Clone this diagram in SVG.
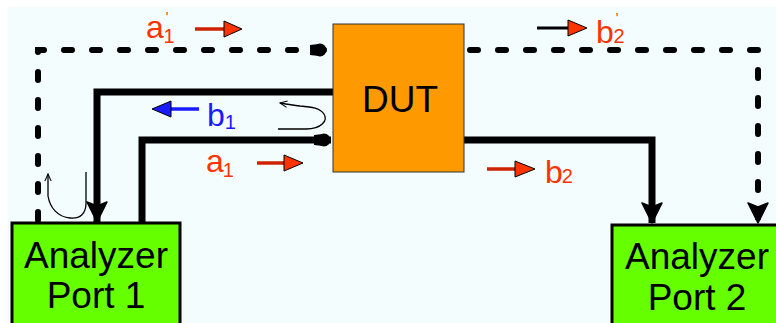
<svg xmlns="http://www.w3.org/2000/svg" width="776" height="323" viewBox="0 0 776 323">
<defs>
<style>
.thick{fill:none;stroke:#000;stroke-width:7;stroke-linejoin:miter}
.dash{fill:none;stroke:#000;stroke-width:6;stroke-dasharray:8 20;stroke-linecap:round}
.thin{fill:none;stroke:#000;stroke-width:1.3}
.lbl{font-family:"Liberation Sans",Arial,sans-serif;font-size:32px}
.sub{font-size:20px}
.pr{font-size:14px}
.red{fill:#ff3300}
.blue{fill:#1a1aff}
.node{font-family:"Liberation Sans",Arial,sans-serif;font-size:37px;fill:#000;text-anchor:middle}
.head{stroke:#000;stroke-width:1}
</style>
<marker id="ah" viewBox="0 0 22 22" refX="21" refY="11" markerWidth="22" markerHeight="22" orient="auto" markerUnits="userSpaceOnUse">
<path d="M1,1 L21,11 L1,21 L5,11 z" fill="#000" stroke="#000" stroke-width="1.5" stroke-linejoin="round"/>
</marker>
<marker id="dot" viewBox="0 0 18 18" refX="17" refY="9" markerWidth="18" markerHeight="18" orient="auto" markerUnits="userSpaceOnUse">
<path d="M0,4 L9,3 L9,15 L0,14 z" fill="#000"/><circle cx="10" cy="9" r="6.5" fill="#000"/>
</marker>
<marker id="tiny" viewBox="0 0 10 10" refX="9" refY="5" markerWidth="8" markerHeight="8" orient="auto" markerUnits="userSpaceOnUse">
<path d="M0,1 L9,5 L0,9" fill="none" stroke="#000" stroke-width="1.3"/>
</marker>
</defs>
<rect x="0" y="0" width="776" height="323" fill="#ffffff"/>
<rect x="7" y="7" width="769" height="316" fill="#f4fdfd"/>

<g id="connectors">
<path class="dash" d="M38,220 L38,50 L327,50" marker-end="url(#dot)"/>
<path class="dash" d="M470,50 L758,50 L758,223" marker-end="url(#ah)"/>
<path class="thick" d="M333,92 L97,92 L97,222" marker-end="url(#ah)"/>
<path class="thick" d="M142,223 L142,140 L331,140" marker-end="url(#dot)"/>
<path class="thick" d="M464,140 L652,140 L652,223" marker-end="url(#ah)"/>
<path class="thin" d="M278,129 L306,129 C322,129 328,120 324,114 C320,108 312,107 300,106 C292,105 286,104 280,103" marker-end="url(#tiny)"/>
<path class="thin" d="M86,172 L86,203 C86,214 80,219 70,218 C58,217 50,208 48,196 L48,174" marker-end="url(#tiny)"/>
<path class="thin" d="M750,227 L765,238"/>
</g>

<g id="arrows">
<g id="arr-a1p"><line x1="195" y1="29" x2="225" y2="29" stroke="#cc2200" stroke-width="3.5"/><path class="head" d="M224,21 L242,29 L224,37 z" fill="#ff3300"/></g>
<g id="arr-b1"><line x1="199" y1="109" x2="170" y2="109" stroke="#1a1aff" stroke-width="3.5"/><path class="head" d="M171,101 L152,109 L171,117 z" fill="#1a1aff"/></g>
<g id="arr-a1"><line x1="257" y1="163" x2="285" y2="163" stroke="#cc2200" stroke-width="3.5"/><path class="head" d="M284,155 L303,163 L284,171 z" fill="#ff3300"/></g>
<g id="arr-b2p"><line x1="537" y1="28" x2="569" y2="28" stroke="#000" stroke-width="3"/><path class="head" d="M568,20 L587,28 L568,36 z" fill="#ff3300"/></g>
<g id="arr-b2"><line x1="487" y1="169" x2="516" y2="169" stroke="#cc2200" stroke-width="3.5"/><path class="head" d="M515,161 L535,169 L515,177 z" fill="#ff3300"/></g>
</g>

<g id="labels">
<text class="lbl red" x="146" y="38">a<tspan class="pr" dx="2" dy="-16">'</tspan><tspan class="sub" dx="-5" dy="21">1</tspan></text>
<text class="lbl blue" x="207" y="126">b<tspan class="sub" dx="0" dy="3">1</tspan></text>
<text class="lbl red" x="206" y="172">a<tspan class="sub" dx="-1" dy="5">1</tspan></text>
<text class="lbl red" x="596" y="43">b<tspan class="pr" dx="2" dy="-20">'</tspan><tspan class="sub" dx="-5" dy="20">2</tspan></text>
<text class="lbl red" x="545" y="183">b<tspan class="sub" dx="-1">2</tspan></text>
</g>

<g id="dut">
<rect x="333" y="24" width="131" height="148" fill="#ff9900" stroke="#333" stroke-width="1"/>
<text class="node" x="400" y="112">DUT</text>
</g>

<g id="port1">
<rect x="12" y="223" width="168" height="110" fill="#66ff00" stroke="#000" stroke-width="3"/>
<text class="node" x="96" y="268">Analyzer</text>
<text class="node" x="96" y="308">Port 1</text>
</g>

<g id="port2">
<rect x="612" y="225" width="180" height="110" fill="#66ff00" stroke="#000" stroke-width="3"/>
<text class="node" x="697" y="269">Analyzer</text>
<text class="node" x="697" y="310">Port 2</text>
</g>
</svg>
